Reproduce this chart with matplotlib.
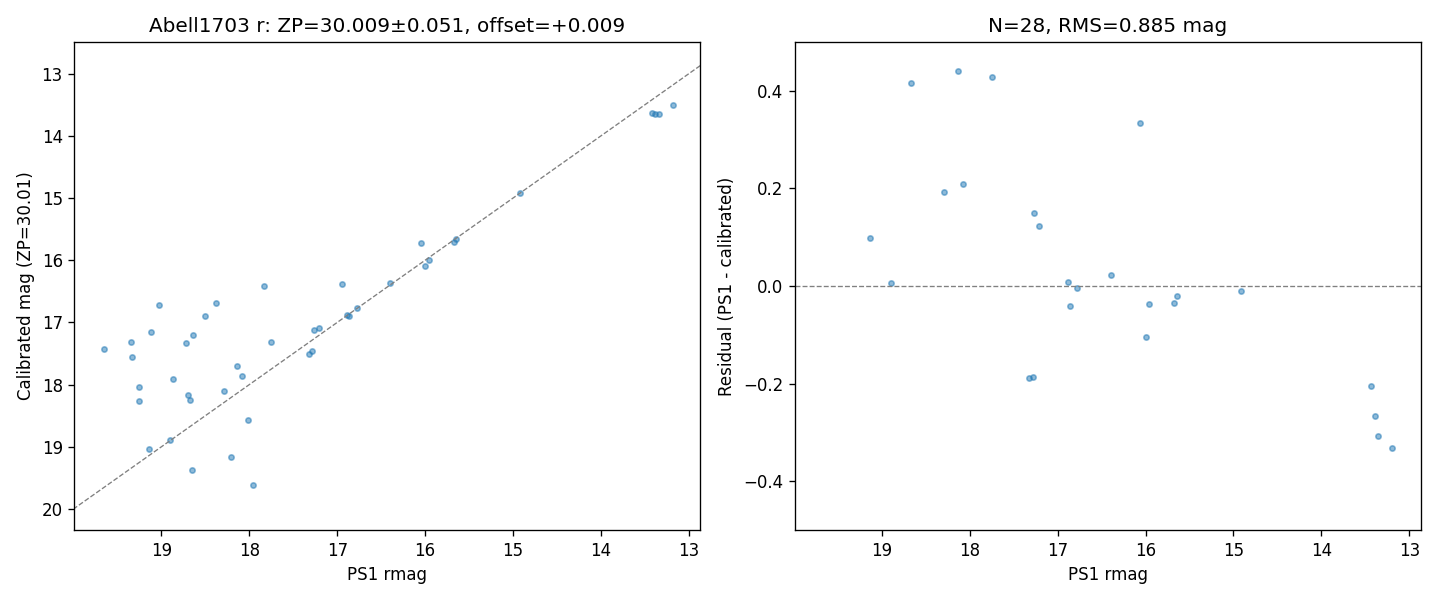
import matplotlib
matplotlib.use("Agg")
import matplotlib.pyplot as plt
import numpy as np

# all matched stars (left panel)
ps1_all = [19.659, 19.341, 19.330, 19.114, 19.023, 19.250, 19.261, 19.136, 18.901, 18.864,
           18.716, 18.636, 18.500, 18.375, 18.693, 18.670, 18.655, 18.284, 18.205, 18.136,
           18.080, 18.011, 17.955, 17.830, 17.750, 17.318, 17.284, 17.261, 17.205, 16.943,
           16.886, 16.864, 16.773, 16.398, 16.052, 15.955, 16.000, 15.670, 15.651, 14.920,
           13.420, 13.382, 13.336, 13.182]
cal_all = [17.426, 17.314, 17.555, 17.153, 16.719, 18.037, 18.262, 19.034, 18.889, 17.908,
           17.330, 17.201, 16.896, 16.686, 18.166, 18.246, 19.371, 18.101, 19.162, 17.699,
           17.860, 18.568, 19.613, 16.413, 17.314, 17.506, 17.458, 17.121, 17.088, 16.381,
           16.879, 16.896, 16.767, 16.365, 15.722, 15.995, 16.092, 15.706, 15.658, 14.918,
           13.632, 13.643, 13.648, 13.503]

# stars used in the fit (right panel)
ps1_fit = [19.140, 18.901, 18.670, 18.295, 18.136, 18.080, 17.750, 17.273, 17.216, 17.330,
           17.284, 16.886, 16.864, 16.784, 16.398, 16.059, 16.000, 15.966, 15.682, 15.648,
           14.920, 13.435, 13.386, 13.352, 13.193]
resid_fit = [0.098, 0.006, 0.417, 0.192, 0.440, 0.210, 0.429, 0.149, 0.124, -0.189,
             -0.187, 0.008, -0.040, -0.005, 0.022, 0.334, -0.105, -0.037, -0.035, -0.021,
             -0.011, -0.205, -0.267, -0.308, -0.332]

fig, (ax1, ax2) = plt.subplots(1, 2, figsize=(12, 5))

ax1.scatter(ps1_all, cal_all, s=10, alpha=0.5, color="C0")
ax1.axline((13, 13), (20, 20), color="gray", ls="--", lw=0.8)
ax1.set_xlim(19.99, 12.87)
ax1.set_ylim(20.34, 12.49)
ax1.set_xlabel("PS1 rmag")
ax1.set_ylabel("Calibrated mag (ZP=30.01)")
ax1.set_title("Abell1703 r: ZP=30.009±0.051, offset=+0.009")

ax2.scatter(ps1_fit, resid_fit, s=10, alpha=0.5, color="C0")
ax2.axhline(0, color="gray", ls="--", lw=0.8)
ax2.set_xlim(19.99, 12.87)
ax2.set_ylim(-0.5, 0.5)
ax2.set_xlabel("PS1 rmag")
ax2.set_ylabel("Residual (PS1 - calibrated)")
ax2.set_title("N=28, RMS=0.885 mag")

fig.tight_layout()
fig.subplots_adjust(top=0.93)
fig.savefig("out.png", dpi=120)
